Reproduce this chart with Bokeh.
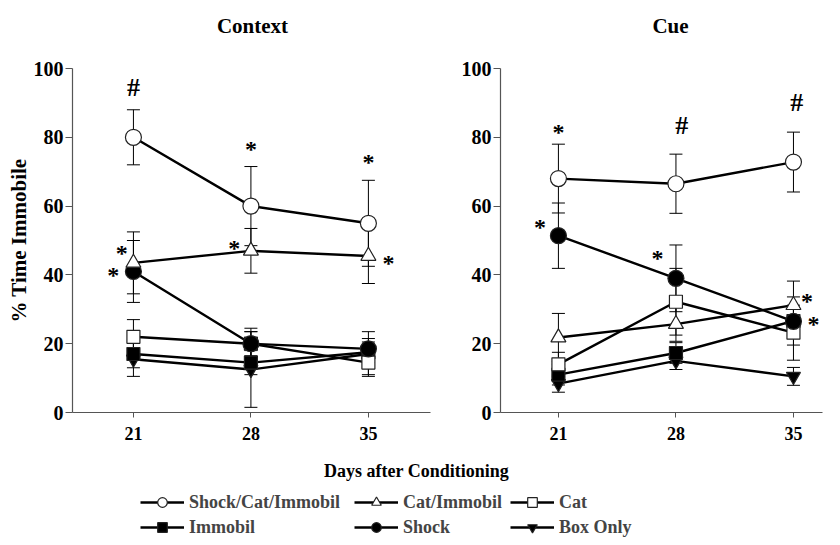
from bokeh.plotting import figure
from bokeh.models import Range1d, FixedTicker, Legend, LegendItem, ColumnDataSource, Label
from bokeh.layouts import column, row
from bokeh.embed import file_html
from bokeh.resources import INLINE
from bokeh.core.properties import value
import numpy as np

# ---------------- data ----------------
days = [21, 28, 35]
series_names = ["Shock/Cat/Immobil", "Cat/Immobil", "Cat", "Immobil", "Shock", "Box Only"]
panel_titles = ["Context", "Cue"]
x_title = "Days after Conditioning"
y_title = "% Time Immobile"

# Context panel (mean, SEM)
ctx_scim = [80, 60, 55];        ctx_scim_err = [8, 11.5, 12.5]
ctx_catimm = [43.5, 47, 45.5];  ctx_catimm_err = [9, 6.5, 8]
ctx_cat = [22, 20, 14.5];       ctx_cat_err = [5, 4.5, 3.5]
ctx_immobil = [17, 14.5, 17.5]; ctx_immobil_err = [4, 3.5, 3]
ctx_shock = [41, 20, 18.5];     ctx_shock_err = [9, 3.5, 3]
ctx_box = [15.5, 12.5, 17];     ctx_box_err = [5, 11, 6.5]

# Cue panel (mean, SEM)
cue_scim = [68, 66.5, 72.8];    cue_scim_err = [10, 8.6, 8.7]
cue_catimm = [21.8, 25.7, 31.2]; cue_catimm_err = [7, 5, 7]
cue_cat = [14, 32.2, 23.2];     cue_cat_err = [3.5, 9.7, 8]
cue_immobil = [11, 17.3, 26.6]; cue_immobil_err = [3, 3, 7]
cue_shock = [51.4, 39, 26.5];   cue_shock_err = [9.5, 9.7, 4]
cue_box = [8.4, 15, 10.5];      cue_box_err = [2.5, 2.5, 2.6]

# significance marks
ctx_ann_x = [21, 28, 35, 20.3, 19.8, 27.0, 36.2]
ctx_ann_y = [94.5, 78, 74.4, 47.7, 41.5, 49.4, 45]
ctx_ann_t = ["#", "*", "*", "*", "*", "*", "*"]
cue_ann_x = [21, 28.35, 35.2, 19.9, 26.9, 35.8, 36.2]
cue_ann_y = [83, 83.4, 90, 55.5, 46.3, 34, 27.3]
cue_ann_t = ["*", "#", "#", "*", "*", "*", "*"]

y_ticks = [0, 20, 40, 60, 80, 100]

# ---------------- styles ----------------
FONT = "Liberation Serif"
STYLE = {
    "Shock/Cat/Immobil": dict(marker="circle", fill="white", size=16),
    "Cat/Immobil": dict(marker="triangle", fill="white", size=15),
    "Cat": dict(marker="square", fill="white", size=13),
    "Immobil": dict(marker="square", fill="black", size=13),
    "Shock": dict(marker="circle", fill="black", size=16),
    "Box Only": dict(marker="inverted_triangle", fill="black", size=14),
}
DRAW_ORDER = ["Box Only", "Immobil", "Cat", "Shock", "Cat/Immobil", "Shock/Cat/Immobil"]


def make_panel(data, ann, width, mb_left, xr, ylabel):
    p = figure(width=width, height=405, output_backend="svg", toolbar_location=None,
               x_range=Range1d(*xr), y_range=Range1d(0, 100),
               min_border_left=mb_left, min_border_right=2, min_border_top=18,
               min_border_bottom=43)
    p.grid.visible = False
    p.outline_line_color = None
    p.background_fill_color = "white"

    for ax in (p.xaxis[0], p.yaxis[0]):
        ax.axis_line_color = "#555555"
        ax.axis_line_width = 1.2
        ax.major_tick_line_color = "#555555"
        ax.minor_tick_line_color = None
        ax.major_tick_in = 0
        ax.major_label_text_font = FONT
        ax.major_label_text_font_style = "bold"
        ax.major_label_text_color = "black"
    p.xaxis[0].ticker = FixedTicker(ticks=days)
    p.xaxis[0].major_tick_out = 5
    p.xaxis[0].major_label_text_font_size = "18px"
    p.xaxis[0].major_label_standoff = 9
    p.yaxis[0].ticker = FixedTicker(ticks=y_ticks)
    p.yaxis[0].major_tick_out = 7
    p.yaxis[0].major_label_text_font_size = "20px"
    p.yaxis[0].major_label_standoff = 2
    if ylabel:
        p.yaxis[0].axis_label = ylabel
        p.yaxis[0].axis_label_text_font = FONT
        p.yaxis[0].axis_label_text_font_style = "bold"
        p.yaxis[0].axis_label_text_font_size = "21px"
        p.yaxis[0].axis_label_text_color = "black"
        p.yaxis[0].axis_label_standoff = 0

    # error bars
    for name in DRAW_ORDER:
        vals, errs = data[name]
        v = np.array(vals, float); e = np.array(errs, float)
        src = ColumnDataSource(dict(x=days, lo=v - e, hi=v + e))
        p.segment(x0="x", y0="lo", x1="x", y1="hi", source=src, line_color="black", line_width=1)
        p.scatter(x="x", y="lo", source=src, marker="dash", size=13, line_color="black", line_width=1)
        p.scatter(x="x", y="hi", source=src, marker="dash", size=13, line_color="black", line_width=1)
    # lines
    for name in DRAW_ORDER:
        vals, _ = data[name]
        p.line(days, vals, line_color="black", line_width=2.4)
    # markers
    for name in DRAW_ORDER:
        vals, _ = data[name]
        st = STYLE[name]
        p.scatter(days, vals, marker=st["marker"], size=st["size"], fill_color=st["fill"],
                  line_color="#222222", line_width=1.2)

    ax_, ay_, at_ = ann
    stars = [(x, y) for x, y, t in zip(ax_, ay_, at_) if t == "*"]
    hashes = [(x, y) for x, y, t in zip(ax_, ay_, at_) if t == "#"]
    if stars:
        p.text(x=[s[0] for s in stars], y=[s[1] for s in stars], text=["*"] * len(stars),
               text_font=value(FONT), text_font_style="bold", text_font_size="24px",
               text_align="center", text_baseline="middle", y_offset=5, text_color="black")
    if hashes:
        p.text(x=[s[0] for s in hashes], y=[s[1] for s in hashes], text=["#"] * len(hashes),
               text_font=value(FONT), text_font_style="bold", text_font_size="26px",
               text_align="center", text_baseline="middle", text_color="black")
    return p


ctx_data = {
    "Shock/Cat/Immobil": (ctx_scim, ctx_scim_err),
    "Cat/Immobil": (ctx_catimm, ctx_catimm_err),
    "Cat": (ctx_cat, ctx_cat_err),
    "Immobil": (ctx_immobil, ctx_immobil_err),
    "Shock": (ctx_shock, ctx_shock_err),
    "Box Only": (ctx_box, ctx_box_err),
}
cue_data = {
    "Shock/Cat/Immobil": (cue_scim, cue_scim_err),
    "Cat/Immobil": (cue_catimm, cue_catimm_err),
    "Cat": (cue_cat, cue_cat_err),
    "Immobil": (cue_immobil, cue_immobil_err),
    "Shock": (cue_shock, cue_shock_err),
    "Box Only": (cue_box, cue_box_err),
}

p1 = make_panel(ctx_data, (ctx_ann_x, ctx_ann_y, ctx_ann_t), 432, 72,
                (17.37, 38.7), y_title)
p2 = make_panel(cue_data, (cue_ann_x, cue_ann_y, cue_ann_t), 392, 68,
                (17.55, 36.73), None)


def strip(h):
    s = figure(width=824, height=h, output_backend="svg", toolbar_location=None,
               x_range=Range1d(X0, X0 + 824), y_range=Range1d(0, h),
               x_axis_location=None, y_axis_location=None, min_border=0)
    s.grid.visible = False
    s.outline_line_color = None
    return s


# strips use a pixel-like view far from the data values
X0 = 1000

# ---------------- title strip ----------------
p0 = strip(50)
for t, cx in zip(panel_titles, [252, 670]):
    p0.add_layout(Label(x=X0 + cx, y=25, text=t, text_font=FONT, text_font_style="bold",
                        text_font_size="21px", text_align="center", text_baseline="middle",
                        text_color="black"))

# ---------------- legend / x label strip ----------------
p3 = strip(82)
p3.add_layout(Label(x=X0 + 416, y=67, text=x_title, text_font=FONT,
                    text_font_style="bold", text_font_size="18px", text_align="center",
                    text_baseline="middle", text_color="black"))

items = {}
for name in series_names:
    st = STYLE[name]
    vals = ctx_data[name][0]
    lr = p3.line(days, vals, line_color="black", line_width=2.4)
    sr = p3.scatter(days, vals, marker=st["marker"], size=st["size"],
                    fill_color=st["fill"], line_color="#222222", line_width=1.2)
    items[name] = LegendItem(label=name, renderers=[lr, sr])

legend_cols = [(["Shock/Cat/Immobil", "Immobil"], 140),
               (["Cat/Immobil", "Shock"], 354),
               (["Cat", "Box Only"], 510)]
for names, xpos in legend_cols:
    lg = Legend(items=[items[n] for n in names], location=(xpos, -2),
                orientation="vertical", glyph_width=44, glyph_height=24,
                label_text_font=FONT, label_text_font_style="bold",
                label_text_font_size="18px", label_standoff=5, label_height=20,
                spacing=1, padding=0, margin=0, border_line_color=None,
                background_fill_alpha=0)
    p3.add_layout(lg)

layout = column(p0, row(p1, p2), p3)
open("out.html", "w").write(file_html(layout, INLINE))
